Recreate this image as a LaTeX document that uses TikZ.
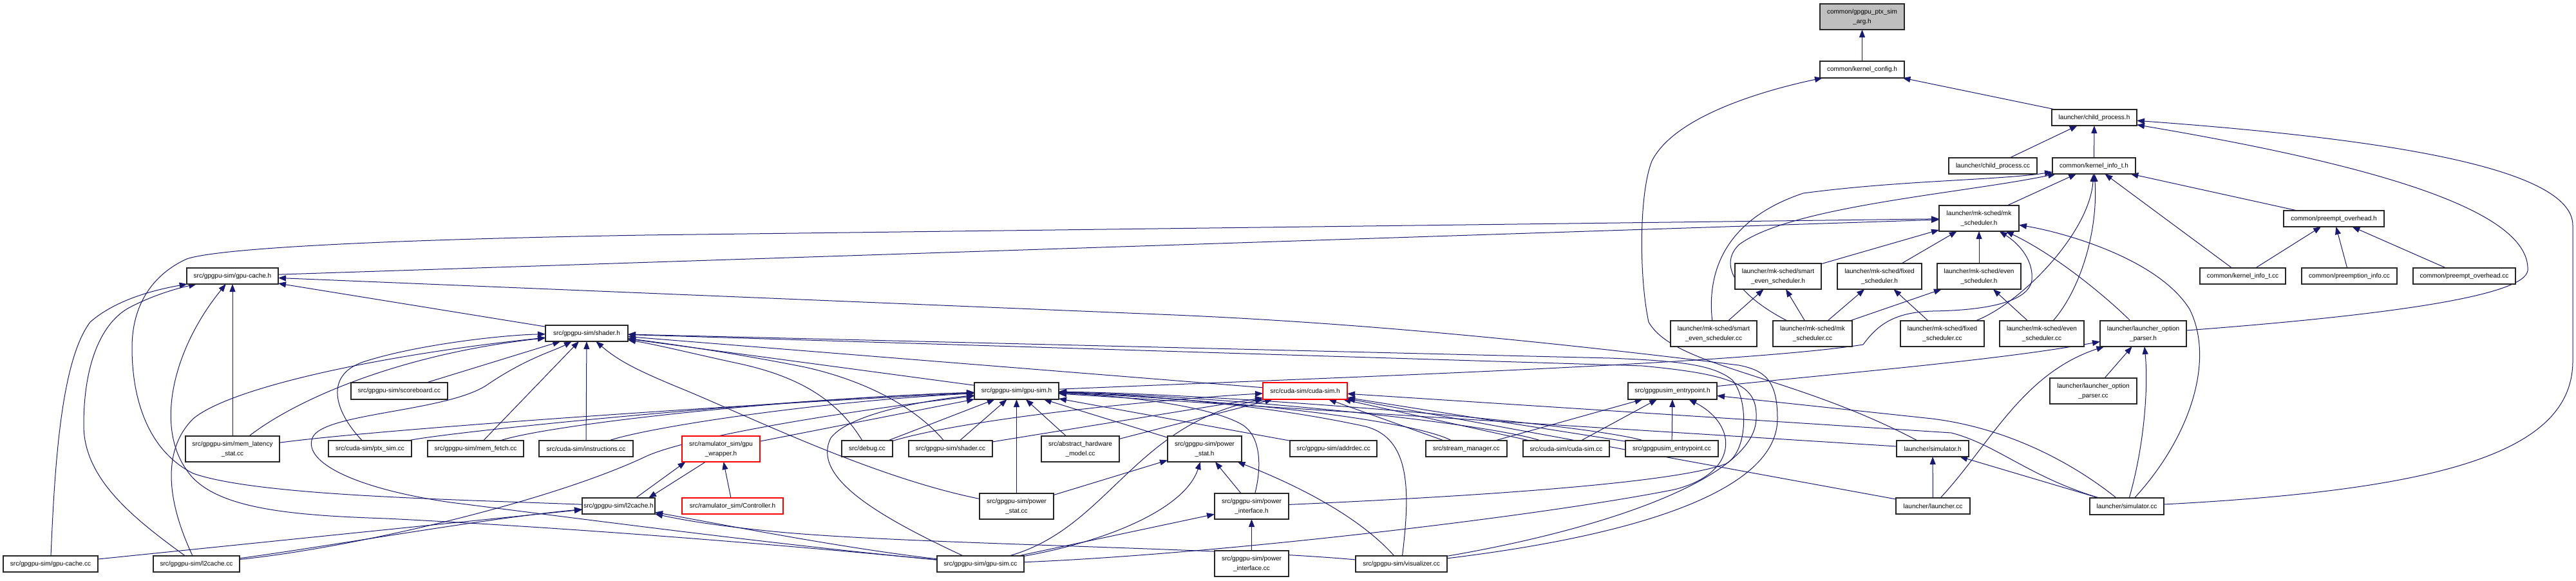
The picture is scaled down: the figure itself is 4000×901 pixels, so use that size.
\documentclass[tikz,border=0pt]{standalone}
\usepackage{fontspec}
\setmainfont{Liberation Sans}
\usetikzlibrary{arrows.meta}
\pgfdeclarelayer{bg}
\pgfsetlayers{bg,main}
\definecolor{edgecol}{HTML}{191970}
\definecolor{grayfill}{HTML}{BFBFBF}
\tikzset{
  box/.style={draw=black!85, line width=0.65pt, fill=white, inner sep=0pt, outer sep=0pt, align=center, font=\fontsize{5}{7.5}\selectfont},
  redbox/.style={draw=red},
  rootbox/.style={fill=grayfill},
  e/.style={draw=edgecol, line width=0.5pt, -{Triangle[length=6pt,width=4.5pt]}},
}
\newcommand\bx[7][]{\node[box,#1,minimum width={(#4-#3)*0.5pt},minimum height={(#6-#5)*0.5pt}] (#2) at ({(#3+#4)/2},{(#5+#6)/2}) {#7};}
\begin{document}
\begin{tikzpicture}[x=0.5pt,y=-0.5pt]
\useasboundingbox (0,0) rectangle (4000,901);
% nodes
\bx[rootbox]{arg}{2826}{2957}{6}{46}{common/gpgpu\_ptx\_sim\\\_arg.h}
\bx{kc}{2826}{2957}{95}{121}{common/kernel\_config.h}
\bx{cph}{3186}{3318}{170}{195}{launcher/child\_process.h}
\bx{cpcc}{3026}{3163}{245}{270}{launcher/child\_process.cc}
\bx{kih}{3187}{3316}{245}{270}{common/kernel\_info\_t.h}
\bx{mkh}{3011}{3135}{319}{359}{launcher/mk-sched/mk\\\_scheduler.h}
\bx{poh}{3546}{3702}{327}{352}{common/preempt\_overhead.h}
\bx{gch}{290}{432}{416}{441}{src/gpgpu-sim/gpu-cache.h}
\bx{sesh}{2694}{2828}{409}{449}{launcher/mk-sched/smart\\\_even\_scheduler.h}
\bx{fsh}{2853}{2984}{409}{449}{launcher/mk-sched/fixed\\\_scheduler.h}
\bx{esh}{3008}{3138}{409}{449}{launcher/mk-sched/even\\\_scheduler.h}
\bx{kicc}{3416}{3549}{416}{441}{common/kernel\_info\_t.cc}
\bx{picc}{3574}{3722}{416}{441}{common/preemption\_info.cc}
\bx{pocc}{3747}{3906}{416}{441}{common/preempt\_overhead.cc}
\bx{shh}{847}{975}{505}{530}{src/gpgpu-sim/shader.h}
\bx{sescc}{2594}{2728}{498}{538}{launcher/mk-sched/smart\\\_even\_scheduler.cc}
\bx{mkcc}{2753}{2876}{498}{538}{launcher/mk-sched/mk\\\_scheduler.cc}
\bx{fscc}{2951}{3081}{498}{538}{launcher/mk-sched/fixed\\\_scheduler.cc}
\bx{escc}{3105}{3236}{498}{538}{launcher/mk-sched/even\\\_scheduler.cc}
\bx{loph}{3261}{3395}{498}{538}{launcher/launcher\_option\\\_parser.h}
\bx{sbcc}{545}{695}{594}{620}{src/gpgpu-sim/scoreboard.cc}
\bx{gsh}{1513}{1644}{594}{620}{src/gpgpu-sim/gpu-sim.h}
\bx[redbox]{csh}{1961}{2092}{594}{620}{src/cuda-sim/cuda-sim.h}
\bx{eph}{2528}{2666}{594}{620}{src/gpgpusim\_entrypoint.h}
\bx{lopcc}{3183}{3318}{587}{627}{launcher/launcher\_option\\\_parser.cc}
\bx{mlcc}{288}{434}{677}{717}{src/gpgpu-sim/mem\_latency\\\_stat.cc}
\bx{ptcc}{510}{639}{684}{709}{src/cuda-sim/ptx\_sim.cc}
\bx{mfcc}{664}{813}{684}{709}{src/gpgpu-sim/mem\_fetch.cc}
\bx{incc}{837}{983}{684}{709}{src/cuda-sim/instructions.cc}
\bx[redbox]{gwh}{1059}{1180}{677}{717}{src/ramulator\_sim/gpu\\\_wrapper.h}
\bx{dbcc}{1307}{1386}{684}{709}{src/debug.cc}
\bx{shcc}{1411}{1541}{684}{709}{src/gpgpu-sim/shader.cc}
\bx{ahcc}{1617}{1738}{677}{717}{src/abstract\_hardware\\\_model.cc}
\bx{psh}{1813}{1928}{677}{717}{src/gpgpu-sim/power\\\_stat.h}
\bx{adcc}{2003}{2138}{684}{709}{src/gpgpu-sim/addrdec.cc}
\bx{smcc}{2214}{2340}{684}{709}{src/stream\_manager.cc}
\bx{cscc}{2365}{2499}{684}{709}{src/cuda-sim/cuda-sim.cc}
\bx{epcc}{2524}{2668}{684}{709}{src/gpgpusim\_entrypoint.cc}
\bx{simh}{2945}{3057}{684}{709}{launcher/simulator.h}
\bx{l2h}{904}{1017}{773}{798}{src/gpgpu-sim/l2cache.h}
\bx[redbox]{ctlh}{1059}{1216}{773}{798}{src/ramulator\_sim/Controller.h}
\bx{pscc}{1521}{1636}{766}{806}{src/gpgpu-sim/power\\\_stat.cc}
\bx{pih}{1886}{2001}{766}{806}{src/gpgpu-sim/power\\\_interface.h}
\bx{lcc}{2944}{3059}{773}{798}{launcher/launcher.cc}
\bx{simcc}{3245}{3360}{773}{799}{launcher/simulator.cc}
\bx{gccc}{5}{152}{863}{888}{src/gpgpu-sim/gpu-cache.cc}
\bx{l2cc}{238}{372}{863}{888}{src/gpgpu-sim/l2cache.cc}
\bx{gscc}{1455}{1590}{863}{888}{src/gpgpu-sim/gpu-sim.cc}
\bx{picc2}{1886}{2001}{855}{895}{src/gpgpu-sim/power\\\_interface.cc}
\bx{vzcc}{2105}{2247}{863}{888}{src/gpgpu-sim/visualizer.cc}
\begin{pgfonlayer}{bg}
\fill[white] (0,0) rectangle (4000,901);
% upper part
\draw[e] (kc) -- (arg);
\draw[e] (cph) -- (kc);
\draw[e] (simh) .. controls (2780,580) and (2600,570) .. (2560,500) .. controls (2545,430) and (2545,300) .. (2565,250) .. controls (2600,180) and (2740,140) .. (kc);
\draw[e] (cpcc) -- (cph);
\draw[e] (kih) -- (cph);
\draw[e] (simcc) .. controls (3800,760) and (3995,700) .. (3995,560) -- (3995,350) .. controls (3995,260) and (3700,215) .. (cph);
\draw[e] (loph) .. controls (3700,490) and (3920,460) .. (3925,420) .. controls (3930,320) and (3650,250) .. (cph);
\draw[e] (mkh) -- (kih);
\draw[e] (kicc) -- (kih);
\draw[e] (poh) -- (kih);
\draw[e] (fscc) .. controls (3140,470) and (3245,360) .. (kih);
\draw[e] (escc) .. controls (3230,450) and (3258,360) .. (kih);
\draw[e] (sescc) .. controls (2650,420) and (2680,340) .. (2800,300) .. controls (2950,280) and (3100,280) .. (kih);
\draw[e] (mkcc) .. controls (2720,470) and (2660,420) .. (2700,380) .. controls (2780,320) and (3050,300) .. (kih);
\draw[e] (kicc) -- (poh);
\draw[e] (picc) -- (poh);
\draw[e] (pocc) -- (poh);
\draw[e] (esh) -- (mkh);
\draw[e] (fsh) -- (mkh);
\draw[e] (sesh) -- (mkh);
\draw[e] (l2h) .. controls (700,775) and (400,770) .. (300,735) .. controls (230,700) and (205,620) .. (205,540) .. controls (205,460) and (250,420) .. (290,402) .. controls (340,385) and (600,372) .. (1000,365) -- (mkh);
\draw[e] (gch) -- (mkh);
\draw[e] (gsh) .. controls (2100,585) and (2700,565) .. (2893,535) .. controls (2915,505) and (2940,485) .. (3000,483) .. controls (3080,482) and (3150,470) .. (3155,435) .. controls (3158,400) and (3130,375) .. (mkh);
\draw[e] (loph) .. controls (3280,470) and (3200,400) .. (mkh);
\draw[e] (simcc) .. controls (3400,680) and (3440,560) .. (3400,480) .. controls (3350,400) and (3200,360) .. (mkh);
\draw[e] (escc) -- (esh);
\draw[e] (mkcc) -- (esh);
\draw[e] (fscc) -- (fsh);
\draw[e] (mkcc) -- (fsh);
\draw[e] (sescc) -- (sesh);
\draw[e] (mkcc) -- (sesh);
% lower part
\draw[e] (shh) -- (gch);
\draw[e] (gccc) .. controls (85,720) and (95,560) .. (140,500) .. controls (180,465) and (240,450) .. (gch);
\draw[e] (l2cc) .. controls (200,800) and (130,740) .. (130,660) .. controls (130,560) and (160,500) .. (200,478) .. controls (230,462) and (265,450) .. (gch);
\draw[e] (gscc) .. controls (1100,835) and (800,815) .. (600,805) .. controls (450,800) and (330,790) .. (290,730) .. controls (240,660) and (270,540) .. (gch);
\draw[e] (mlcc) -- (gch);
\draw[e] (vzcc) .. controls (2550,830) and (2760,760) .. (2760,650) .. controls (2760,590) and (2740,575) .. (2700,567) .. controls (2400,530) and (2100,500) .. (1800,488) -- (gch);
\draw[e] (gccc) -- (l2h);
\draw[e] (l2cc) .. controls (500,850) and (750,805) .. (l2h);
\draw[e] (l2cc) .. controls (260,780) and (250,700) .. (300,650) .. controls (360,600) and (600,550) .. (shh);
\draw[e] (l2cc) .. controls (550,850) and (850,780) .. (1000,710) .. controls (1060,680) and (1300,640) .. (gsh);
\draw[e] (mlcc) .. controls (460,620) and (620,550) .. (shh);
\draw[e] (mlcc) .. controls (600,665) and (1200,625) .. (gsh);
\draw[e] (ptcc) .. controls (520,640) and (500,580) .. (570,560) .. controls (650,535) and (780,520) .. (shh);
\draw[e] (ptcc) .. controls (700,670) and (1200,620) .. (gsh);
\draw[e] (mfcc) -- (shh);
\draw[e] (mfcc) .. controls (850,660) and (1200,620) .. (gsh);
\draw[e] (incc) -- (shh);
\draw[e] (incc) .. controls (1000,665) and (1250,625) .. (gsh);
\draw[e] (sbcc) -- (shh);
\draw[e] (gscc) .. controls (1200,845) and (900,805) .. (700,780) .. controls (560,760) and (470,720) .. (485,680) .. controls (500,640) and (700,640) .. (760,595) .. controls (820,555) and (860,545) .. (shh);
\draw[e] (csh) -- (shh);
\draw[e] (gsh) -- (shh);
\draw[e] (dbcc) .. controls (1300,620) and (1240,585) .. (1150,565) .. controls (1080,550) and (1020,535) .. (shh);
\draw[e] (shcc) .. controls (1420,630) and (1340,590) .. (1250,570) .. controls (1150,550) and (1050,535) .. (shh);
\draw[e] (pscc) .. controls (1350,740) and (1150,640) .. (1050,600) .. controls (990,575) and (960,560) .. (shh);
\draw[e] (pih) .. controls (2300,770) and (2600,750) .. (2680,720) .. controls (2715,700) and (2715,620) .. (2690,590) .. controls (2660,565) and (2600,560) .. (2500,556) -- (shh);
\draw[e] (vzcc) .. controls (2500,820) and (2725,740) .. (2727,650) .. controls (2729,600) and (2700,582) .. (2550,568) -- (shh);
\draw[e] (gwh) -- (gsh);
\draw[e] (gwh.-140) -- (l2h.15);
\draw[e] (l2h.25) -- (gwh.-160);
\draw[e] (ctlh) -- (gwh);
\draw[e] (gscc) .. controls (1300,850) and (1100,810) .. (l2h);
\draw[e] (vzcc) .. controls (1900,850) and (1400,845) .. (1200,825) .. controls (1100,815) and (1050,805) .. (l2h);
\draw[e] (gscc) .. controls (1360,800) and (1260,740) .. (1290,680) .. controls (1320,640) and (1450,620) .. (gsh);
\draw[e] (gscc) .. controls (1720,820) and (1760,660) .. (csh);
\draw[e] (gscc) -- (pih);
\draw[e] (gscc) .. controls (1720,840) and (1840,790) .. (psh);
\draw[e] (gscc) .. controls (1900,860) and (2400,800) .. (2600,760) .. controls (2700,735) and (2700,660) .. (eph);
\draw[e] (pih) .. controls (1958,730) and (1960,680) .. (1930,660) .. controls (1880,630) and (1750,615) .. (gsh);
\draw[e] (pih) -- (psh);
\draw[e] (picc2) -- (pih);
\draw[e] (pscc) -- (gsh);
\draw[e] (pscc) -- (psh);
\draw[e] (psh) -- (gsh);
\draw[e] (vzcc) .. controls (2100,790) and (1980,740) .. (psh);
\draw[e] (vzcc) .. controls (2190,760) and (2190,680) .. (2120,662) .. controls (1950,625) and (1750,612) .. (gsh);
\draw[e] (adcc) -- (gsh);
\draw[e] (smcc) .. controls (2210,660) and (2000,625) .. (gsh);
\draw[e] (smcc) -- (csh);
\draw[e] (smcc) -- (eph);
\draw[e] (cscc) .. controls (2300,655) and (1900,615) .. (gsh);
\draw[e] (cscc) -- (csh);
\draw[e] (cscc) -- (eph);
\draw[e] (epcc) .. controls (2450,655) and (1900,612) .. (gsh);
\draw[e] (epcc) -- (csh);
\draw[e] (epcc) -- (eph);
\draw[e] (simh) -- (gsh);
\draw[e] (simcc) -- (simh);
\draw[e] (simcc) .. controls (3150,740) and (3100,690) .. (3030,672) -- (csh);
\draw[e] (simcc) .. controls (3220,720) and (3120,665) .. (3000,650) -- (eph);
\draw[e] (simcc) .. controls (3330,690) and (3336,600) .. (loph);
\draw[e] (lcc) -- (simh);
\draw[e] (lcc) .. controls (3090,690) and (3140,580) .. (loph);
\draw[e] (lcc) -- (csh);
\draw[e] (lopcc) -- (loph);
\draw[e] (eph) .. controls (2850,580) and (3100,560) .. (loph);
\draw[e] (ahcc) -- (gsh);
\draw[e] (ahcc) -- (csh);
\draw[e] (shcc) -- (gsh);
\draw[e] (shcc) -- (csh);
\draw[e] (dbcc) -- (gsh);
\draw[e] (dbcc) .. controls (1500,650) and (1800,620) .. (csh);
\end{pgfonlayer}
\end{tikzpicture}
\end{document}
